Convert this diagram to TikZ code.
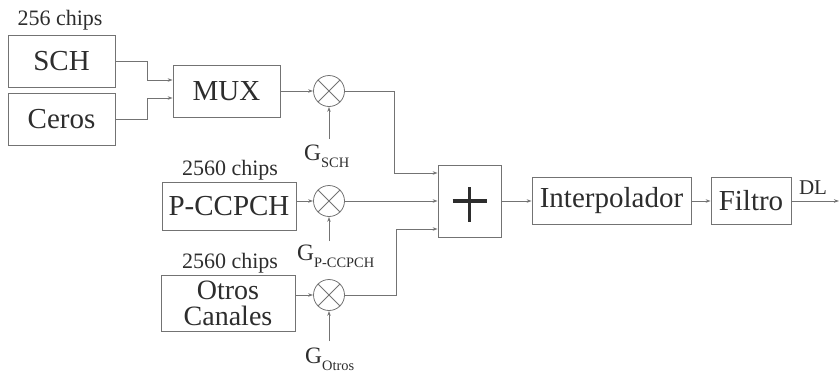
\documentclass[tikz,border=0pt]{standalone}
\usepackage{fontspec}
\setmainfont{Liberation Serif}
\usetikzlibrary{arrows.meta,calc}
\definecolor{ink}{RGB}{45,45,45}
\definecolor{wirec}{RGB}{115,115,115}
\newcommand\gainsub[1]{\raisebox{-7pt}{\fontsize{14.4}{14.4}\selectfont #1}}
\begin{document}
\begin{tikzpicture}[x=1pt,y=-1pt,
  font=\fontsize{29}{29}\selectfont, text=ink,
  block/.style={draw=wirec, line width=0.8pt, inner sep=0pt, align=center},
  mult/.style={draw=wirec, line width=0.8pt, circle, minimum size=31pt, inner sep=0pt},
  arr/.style={draw=wirec, line width=0.8pt, -{Stealth[length=5pt,width=3.5pt]}},
  chips/.style={font=\fontsize{22}{22}\selectfont, anchor=base, inner sep=0pt},
  gain/.style={font=\fontsize{23.5}{23.5}\selectfont, anchor=base west, inner sep=0pt}
]
\useasboundingbox (0,0) rectangle (839,373);

% source blocks
\node[block, minimum width=107pt, minimum height=52pt] (sch) at (61.5,61) {SCH};
\node[block, minimum width=107pt, minimum height=52pt] (ceros) at (61.5,119) {Ceros};
\node[block, minimum width=107pt, minimum height=52pt] (mux) at (226.5,91) {MUX};
\node[block, minimum width=134pt, minimum height=48pt] (pcc) at (229,206) {P-CCPCH};
\node[block, minimum width=134pt, minimum height=56pt, font=\fontsize{28}{26}\selectfont] (otros) at (228,303) {Otros\\Canales};

% multipliers
\node[mult] (m1) at (329,91) {};
\node[mult] (m2) at (329,201) {};
\node[mult] (m3) at (329,295) {};
\foreach \m in {m1,m2,m3}{
  \draw[wirec, line width=0.8pt] (\m.north west) -- (\m.south east)
                                 (\m.north east) -- (\m.south west);
}

% adder and output chain
\node[block, minimum width=63pt, minimum height=72pt] (sum) at (469.5,201) {};
\draw[ink, line width=3.5pt] ($(sum.center)+(-17,0)$) -- ($(sum.center)+(17,0)$)
                             ($(sum.center)+(0,-14)$) -- ($(sum.center)+(0,21)$);
\node[block, minimum width=159pt, minimum height=47pt] (interp) at (611.5,201) {Interpolador};
\node[block, minimum width=80pt, minimum height=47pt] (filtro) at (751,201) {Filtro};
\coordinate (out) at (839,201);

% labels
\node[chips] (c1) at (60,25) {256 chips};
\node[chips] (c2) at (230,175) {2560 chips};
\node[chips] (c3) at (230,268) {2560 chips};
\node[chips, font=\fontsize{21}{21}\selectfont] (dl) at (813,194) {DL};
\node[gain] (g1) at (304,160) {G\gainsub{SCH}};
\node[gain] (g2) at (297,260) {G\gainsub{P-CCPCH}};
\node[gain] (g3) at (305,363) {G\gainsub{Otros}};

% connectors
\coordinate (mx1) at ($(mux.west)+(0,-11)$);
\coordinate (mx2) at ($(mux.west)+(0,7)$);
\draw[arr] (sch.east) -- ++(32,0) |- (mx1);
\draw[arr] (ceros.east) -- ++(32,0) |- (mx2);
\draw[arr] (mux.east) -- (m1.west);
\draw[arr] (pcc.east |- m2) -- (m2.west);
\draw[arr] (otros.east |- m3) -- (m3.west);

\coordinate (s1) at ($(sum.west)+(0,-28)$);
\coordinate (s3) at ($(sum.west)+(0,28)$);
\draw[arr] (m1.east) -| ($(s1)+(-43,0)$) |- (s1);
\draw[arr] (m2.east) -- (sum.west);
\draw[arr] (m3.east) -| ($(s3)+(-41,0)$) |- (s3);
\draw[arr] (sum.east) -- (interp.west);
\draw[arr] (interp.east) -- (filtro.west);
\draw[arr] (filtro.east) -- (out);

% gain inputs
\draw[arr] ($(m1 |- g1.north)+(0,-5)$) -- (m1.south);
\draw[arr] ($(m2 |- g2.north)+(0,-3)$) -- (m2.south);
\draw[arr] ($(m3 |- g3.north)+(0,-6)$) -- (m3.south);
\end{tikzpicture}
\end{document}
